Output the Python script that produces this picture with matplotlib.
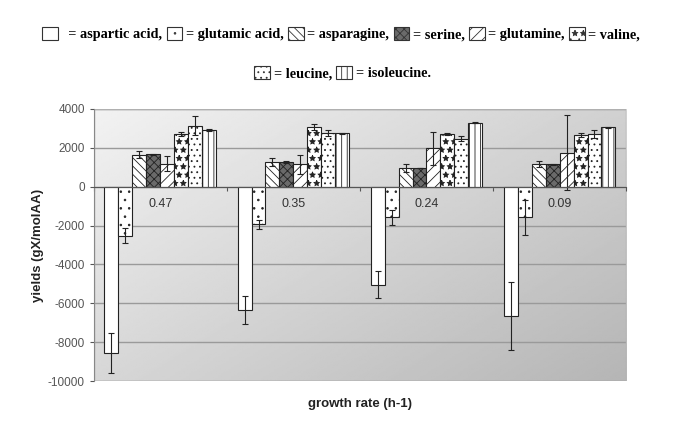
import matplotlib
matplotlib.use("Agg")
import matplotlib.pyplot as plt
from matplotlib.patches import Patch, Rectangle
import numpy as np

# data
rates = ["0.47", "0.35", "0.24", "0.09"]
acids = ["aspartic acid", "glutamic acid", "asparagine", "serine",
         "glutamine", "valine", "leucine", "isoleucine"]

aspartic = [-8550, -6360, -5040, -6630]
glutamic = [-2520, -1940, -1580, -1580]
asparagine = [1650, 1260, 960, 1160]
serine = [1660, 1260, 960, 1160]
glutamine = [1180, 1150, 1990, 1760]
valine = [2720, 3070, 2710, 2640]
leucine = [3150, 2760, 2470, 2720]
isoleucine = [2930, 2740, 3300, 3050]

aspartic_err = [1030, 720, 700, 1750]
glutamic_err = [400, 230, 380, 890]
asparagine_err = [180, 200, 200, 150]
serine_err = [40, 50, 20, 20]
glutamine_err = [380, 480, 850, 1950]
valine_err = [90, 140, 60, 100]
leucine_err = [500, 170, 140, 200]
isoleucine_err = [40, 30, 40, 40]

values = [aspartic, glutamic, asparagine, serine, glutamine, valine, leucine, isoleucine]
errors = [aspartic_err, glutamic_err, asparagine_err, serine_err,
          glutamine_err, valine_err, leucine_err, isoleucine_err]

# fill style per acid (face colour, hatch)
styles = [("white", ""), ("white", ".."), ("white", "\\\\\\\\"), ("#6a6a6a", "xxxx"),
          ("white", "///"), ("white", "**"), ("white", "..."), ("white", "|||")]

plt.rcParams["hatch.linewidth"] = 0.6
plt.rcParams["axes.unicode_minus"] = False
plt.rcParams["font.family"] = ["Liberation Sans", "DejaVu Sans"]

fig = plt.figure(figsize=(6.85, 4.36), dpi=100)
ax = fig.add_axes([0.137, 0.126, 0.777, 0.624])

# gradient background of the plot area
gx, gy = np.meshgrid(np.linspace(0, 1, 200), np.linspace(0, 1, 200))
grad = 0.95 - 0.24 * (0.55 * gx + 0.45 * gy)
ax.imshow(grad, cmap="gray", vmin=0, vmax=1, extent=[0, 1, 0, 1],
          transform=ax.transAxes, aspect="auto", zorder=0, origin="upper")

n = len(acids)
width = 0.105
x = np.arange(len(rates))
for i in range(n):
    fc, hatch = styles[i]
    ax.bar(x + (i - (n - 1) / 2) * width, values[i], width, yerr=errors[i],
           color=fc, hatch=hatch, edgecolor="#222222", linewidth=0.8, zorder=3,
           error_kw=dict(ecolor="#222222", elinewidth=0.8, capsize=2.2, capthick=0.8, zorder=4))

for xi, r in zip(x, rates):
    ax.text(xi, -870, r, ha="center", va="center", fontsize=9, color="#333333", zorder=5)

ax.set_xlim(-0.5, len(rates) - 0.5)
ax.set_ylim(-10000, 4000)
ax.set_yticks(np.arange(-10000, 4001, 2000))
ax.tick_params(axis="y", labelsize=8.5, colors="#555555", length=3)
ax.yaxis.grid(True, color="#9a9a9a", linewidth=1, zorder=1)
ax.set_axisbelow(True)

ax.spines["bottom"].set_position(("data", 0))
ax.spines["bottom"].set_color("#555555")
ax.spines["bottom"].set_zorder(4)
ax.set_xticks(np.arange(-0.5, len(rates), 1.0))
ax.set_xticklabels([])
ax.tick_params(axis="x", length=3, colors="#555555")
for s in ["top", "right"]:
    ax.spines[s].set_visible(False)
ax.spines["left"].set_color("#888888")
ax.add_patch(Rectangle((0, 0), 1, 1, transform=ax.transAxes, fill=False,
                       edgecolor="#b0b0b0", linewidth=1, zorder=2))

ax.set_ylabel("yields (gX/molAA)", fontsize=9.5, fontweight="bold", color="#222222", labelpad=3)
fig.text(0.525, 1 - 404 / 436, "growth rate (h-1)", ha="center", va="center",
         fontsize=9.5, fontweight="bold", color="#222222")

# legend at the top, two rows
handles = [Patch(facecolor=fc, hatch=h, edgecolor="#333333", linewidth=0.8) for fc, h in styles]
labels = ["= " + a + "," for a in acids]
labels[0] = "  = aspartic acid,"
labels[-1] = "= isoleucine."
leg_kw = dict(frameon=False, handlelength=1.1, handleheight=1.1, handletextpad=0.25,
              columnspacing=0.3, borderpad=0,
              prop={"family": "Liberation Serif", "weight": "bold", "size": 10.3})
fig.legend(handles[:6], labels[:6], ncol=6, loc="center",
           bbox_to_anchor=(0.498, 1 - 34 / 436), **leg_kw)
fig.legend(handles[6:], labels[6:], ncol=2, loc="center",
           bbox_to_anchor=(0.5, 1 - 73 / 436), **leg_kw)

fig.savefig("out.png", dpi=100)
